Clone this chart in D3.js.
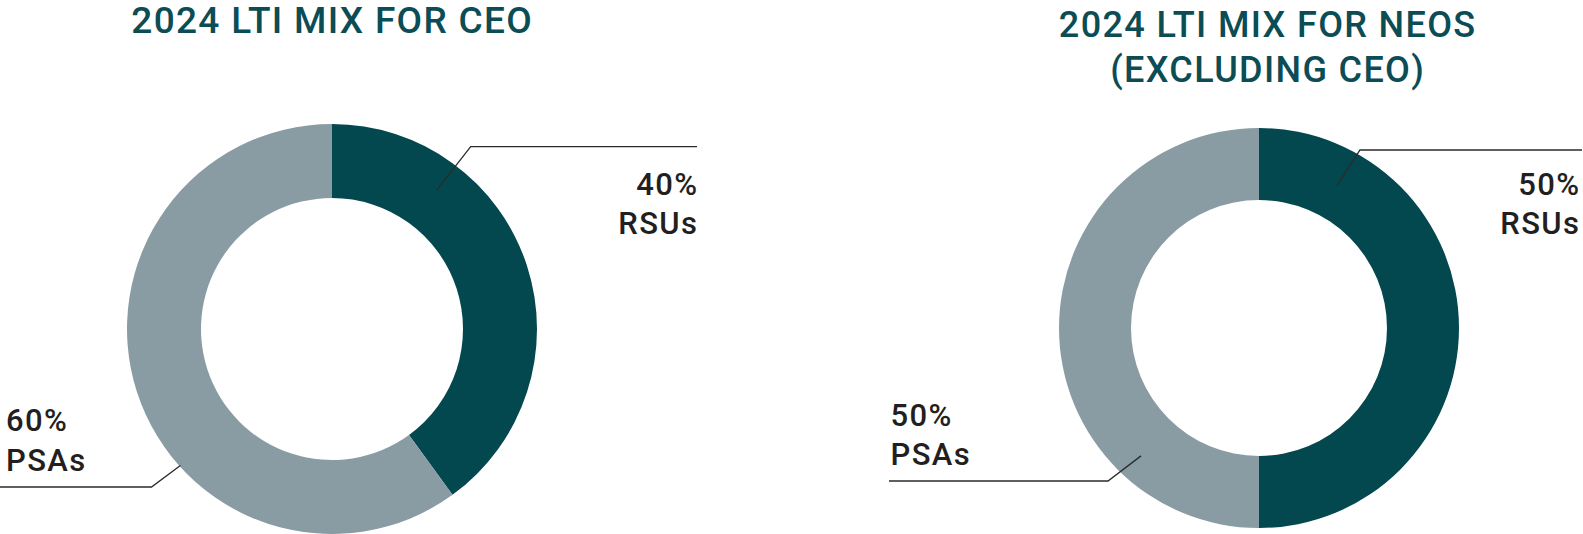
<!DOCTYPE html>
<html>
<head>
<meta charset="utf-8">
<script src="https://cdn.jsdelivr.net/npm/d3@7/dist/d3.min.js"></script>
<style>
  html, body { margin: 0; padding: 0; background: #ffffff; }
  svg { display: block; }
</style>
</head>
<body>
<svg id="chart" width="1583" height="534"></svg>
<script>
// ---- Data ----
const categories = ["RSUs", "PSAs"];
const ceoValues = [40, 60];
const neoValues = [50, 50];
const ceoTitle = ["2024 LTI MIX FOR CEO"];
const neoTitle = ["2024 LTI MIX FOR NEOS", "(EXCLUDING CEO)"];

// ---- Styles ----
const colors = { RSUs: "#03474f", PSAs: "#8a9ca3" };
const titleColor = "#0b4c55";
const labelColor = "#231f20";

const svg = d3.select("#chart");

const panels = [
  {
    values: ceoValues, title: ceoTitle,
    cx: 332, cy: 329, outer: 205, inner: 131,
    titleX: 331.5, titleY: [33], titleSize: 37, titleLs: 1.3,
    labels: [
      { anchor: "end", x: 697, y: [195, 234], line: { x0: 697, y: 146.7, x1: 470.7, ang: 37, r: 174 } },
      { anchor: "start", x: 6, y: [430.5, 471], line: { x0: 0, y: 487, x1: 151.5, ang: 228, r: 204 } }
    ]
  },
  {
    values: neoValues, title: neoTitle,
    cx: 1259, cy: 328, outer: 200, inner: 128,
    titleX: 1267, titleY: [37, 82], titleSize: 36, titleLs: 1.35,
    labels: [
      { anchor: "end", x: 1579, y: [195, 234], line: { x0: 1582, y: 150, x1: 1360, ang: 28.7, r: 162 } },
      { anchor: "start", x: 890.5, y: [425.5, 465], line: { x0: 889, y: 481, x1: 1108, ang: 222.7, r: 174 } }
    ]
  }
];

const labelSize = 31, labelLs = 1.4;
const pie = d3.pie().sort(null).value(d => d.value);

panels.forEach(p => {
  const data = categories.map((c, i) => ({ category: c, value: p.values[i] }));
  const arcs = pie(data);
  const arc = d3.arc().innerRadius(p.inner).outerRadius(p.outer);

  const g = svg.append("g").attr("transform", `translate(${p.cx},${p.cy})`);
  g.selectAll("path").data(arcs).join("path")
    .attr("d", arc)
    .attr("fill", d => colors[d.data.category]);

  // title
  p.title.forEach((t, i) => {
    svg.append("text")
      .attr("x", p.titleX + p.titleLs / 2).attr("y", p.titleY[i])
      .attr("text-anchor", "middle")
      .attr("font-family", "Roboto, sans-serif")
      .attr("font-weight", 500)
      .attr("font-size", p.titleSize)
      .attr("letter-spacing", p.titleLs)
      .attr("fill", titleColor)
      .text(t);
  });

  // labels + leader lines
  arcs.forEach((a, i) => {
    const L = p.labels[i];
    const rad = L.line.ang * Math.PI / 180;
    const ex = p.cx + L.line.r * Math.sin(rad);
    const ey = p.cy - L.line.r * Math.cos(rad);
    svg.append("path")
      .attr("d", d3.line()([[L.line.x0, L.line.y], [L.line.x1, L.line.y], [ex, ey]]))
      .attr("fill", "none")
      .attr("stroke", "#2b2b2b")
      .attr("stroke-width", 1.3);

    const lines = [`${a.data.value}%`, a.data.category];
    lines.forEach((t, j) => {
      svg.append("text")
        .attr("x", L.anchor === "end" ? L.x + labelLs : L.x).attr("y", L.y[j])
        .attr("text-anchor", L.anchor)
        .attr("font-family", "Roboto, sans-serif")
        .attr("font-weight", 500)
        .attr("font-size", labelSize)
        .attr("letter-spacing", labelLs)
        .attr("fill", labelColor)
        .text(t);
    });
  });
});
</script>
</body>
</html>
